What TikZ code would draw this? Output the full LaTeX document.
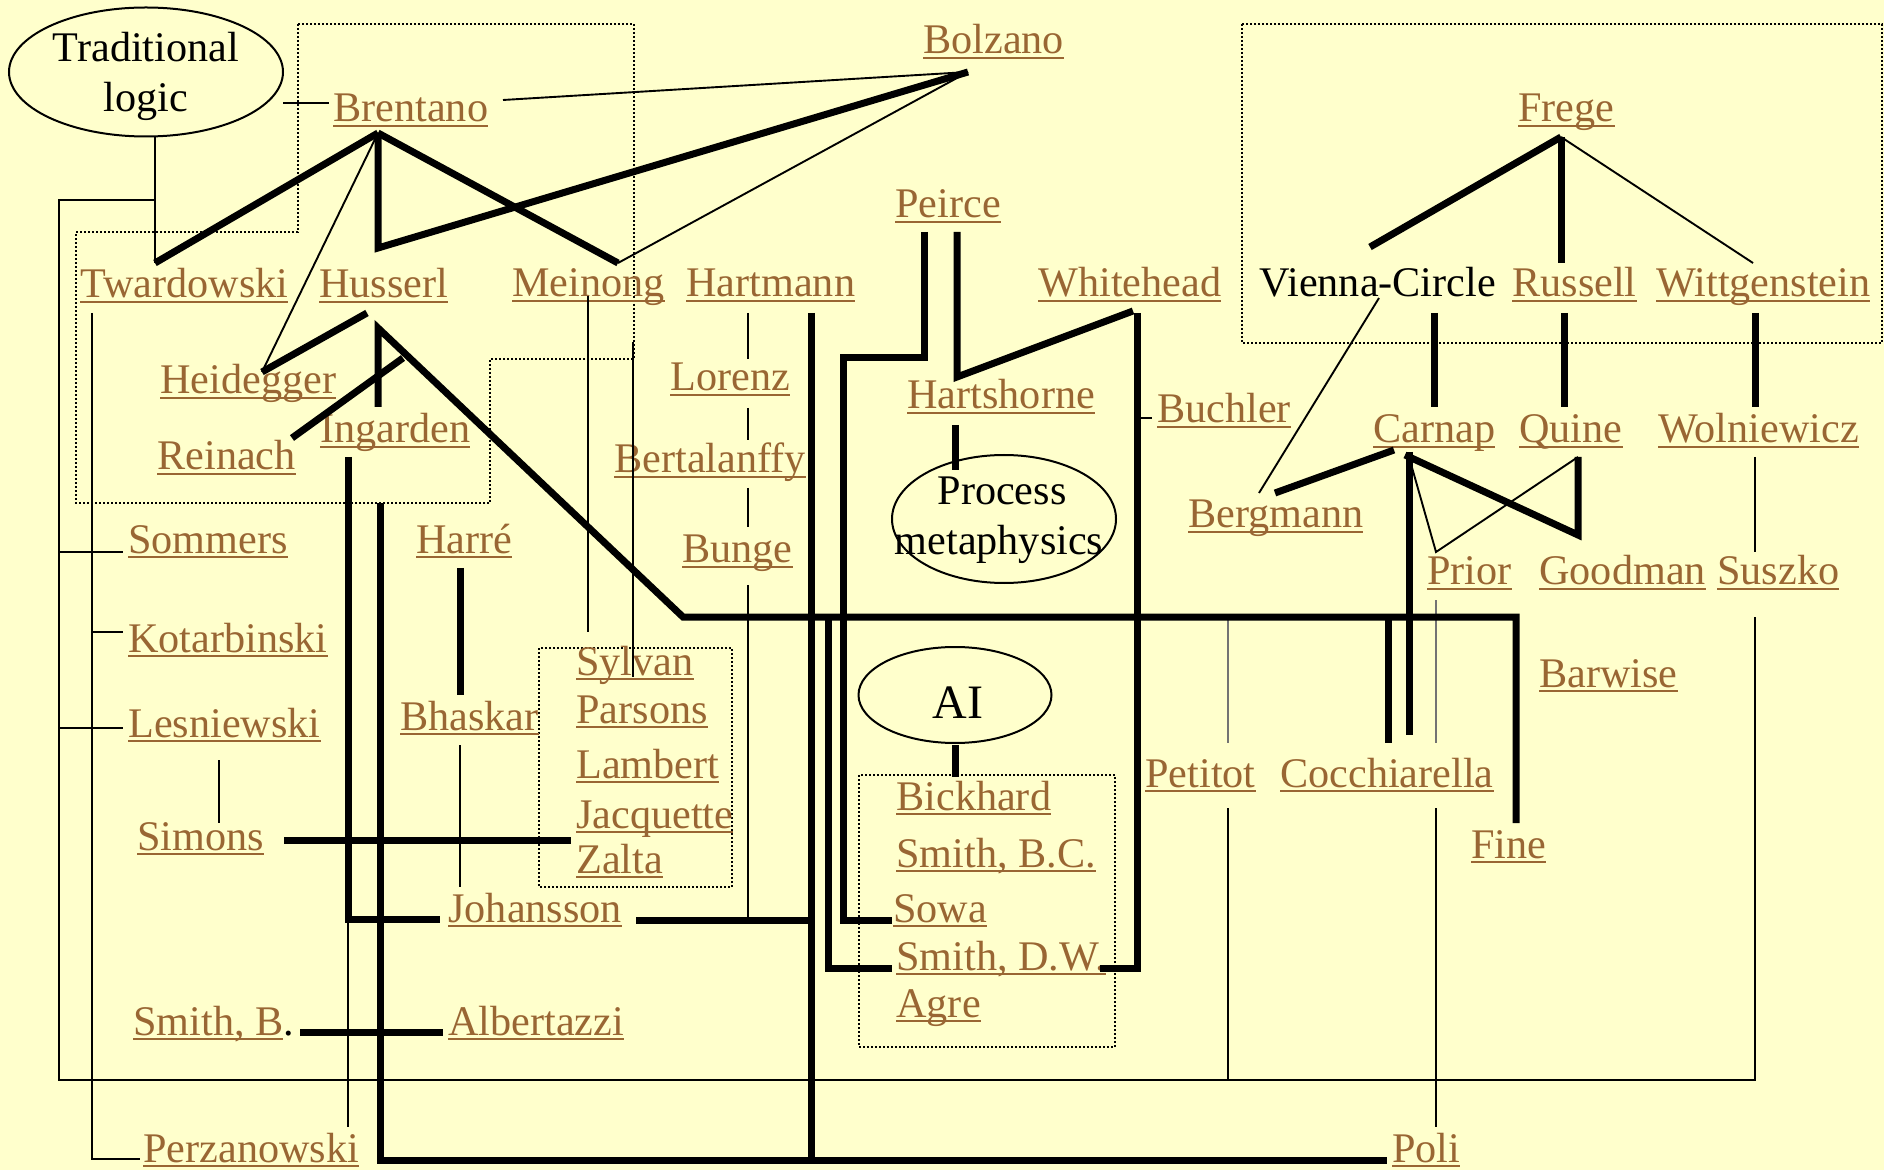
\documentclass[tikz,border=0pt]{standalone}
\usepackage{fontspec}
\setmainfont{Liberation Serif}
\usetikzlibrary{shapes.geometric}
\definecolor{bgc}{HTML}{FFFFCC}
\definecolor{lnkc}{HTML}{996633}
\newcommand\lnk[1]{\setbox0\hbox{#1}\rlap{\rule[-0.13em]{\wd0}{0.05em}}\box0}
\begin{document}
\begin{tikzpicture}[x=0.5pt,y=-0.5pt,
  nm/.style={text=lnkc, inner sep=0pt, anchor=base west, font=\fontsize{21.1}{24}\selectfont},
  pl/.style={text=black, inner sep=0pt, anchor=base west, font=\fontsize{21.1}{24}\selectfont},
  ct/.style={text=black, inner sep=0pt, anchor=base, font=\fontsize{21.1}{24}\selectfont},
  ell/.style={draw, ellipse, line width=1pt, inner sep=0pt},
  thk/.style={line width=3.5pt},
  thn/.style={line width=0.95pt},
  gry/.style={line width=0.7pt, draw=black!55},
  dotbox/.style={line width=1pt, dash pattern=on 1pt off 1pt}]
\fill[bgc] (0,0) rectangle (1884,1170);
\useasboundingbox (0,0) rectangle (1884,1170);

% ellipses
\node[ell, minimum width=137pt, minimum height=64.5pt] (trad) at (146,72) {};
\node[ct] (tradA) at (146,62) {Traditional};
\node[ct] (tradB) at (146,112) {logic};
\node[ell, minimum width=112pt, minimum height=64pt] (proc) at (1004,519) {};
\node[ct] (procA) at (1002,505) {Process};
\node[ct] (procB) at (999,555) {metaphysics};
\node[ell, minimum width=96.5pt, minimum height=48pt] (ai) at (955,695) {};
\node[ct, font=\fontsize{24}{28}\selectfont] (aiT) at (958,718) {AI};

% dotted boxes
\draw[dotbox] (298,24) -- (634,24) -- (634,359) -- (490,359) -- (490,503) -- (76,503) -- (76,232) -- (298,232) -- cycle;
\draw[dotbox] (1242,24) rectangle (1882,343);
\draw[dotbox] (539,648) rectangle (732,887);
\draw[dotbox] (859,775) rectangle (1115,1047);

% names
\node[nm] (brentano) at (333,122) {\lnk{Brentano}};
\node[nm] (bolzano) at (923,54) {\lnk{Bolzano}};
\node[nm] (peirce) at (895,218) {\lnk{Peirce}};
\node[nm] (frege) at (1518,122) {\lnk{Frege}};
\node[nm] (twardowski) at (80,298) {\lnk{Twardowski}};
\node[nm] (husserl) at (319,298) {\lnk{Husserl}};
\node[nm] (meinong) at (512,297) {\lnk{Meinong}};
\node[nm] (hartmann) at (686,297) {\lnk{Hartmann}};
\node[nm] (whitehead) at (1038,297) {\lnk{Whitehead}};
\node[pl] (vienna) at (1259,297) {Vienna-Circle};
\node[nm] (russell) at (1512,297) {\lnk{Russell}};
\node[nm] (wittgenstein) at (1656,297) {\lnk{Wittgenstein}};
\node[nm] (heidegger) at (160,394) {\lnk{Heidegger}};
\node[nm] (lorenz) at (670,391) {\lnk{Lorenz}};
\node[nm] (hartshorne) at (907,409) {\lnk{Hartshorne}};
\node[nm] (buchler) at (1157,423) {\lnk{Buchler}};
\node[nm] (reinach) at (157,470) {\lnk{Reinach}};
\node[nm] (ingarden) at (320,443) {\lnk{Ingarden}};
\node[nm] (carnap) at (1373,443) {\lnk{Carnap}};
\node[nm] (quine) at (1519,443) {\lnk{Quine}};
\node[nm] (wolniewicz) at (1658,443) {\lnk{Wolniewicz}};
\node[nm] (bertalanffy) at (614,473) {\lnk{Bertalanffy}};
\node[nm] (bergmann) at (1188,528) {\lnk{Bergmann}};
\node[nm] (sommers) at (128,553) {\lnk{Sommers}};
\node[nm] (harre) at (416,553) {\lnk{Harré}};
\node[nm] (bunge) at (682,563) {\lnk{Bunge}};
\node[nm] (prior) at (1427,585) {\lnk{Prior}};
\node[nm] (goodman) at (1539,585) {\lnk{Goodman}};
\node[nm] (suszko) at (1717,585) {\lnk{Suszko}};
\node[nm] (kotarbinski) at (128,652) {\lnk{Kotarbinski}};
\node[nm] (sylvan) at (576,675) {\lnk{Sylvan}};
\node[nm] (barwise) at (1539,687) {\lnk{Barwise}};
\node[nm] (parsons) at (576,723) {\lnk{Parsons}};
\node[nm] (bhaskar) at (400,730) {\lnk{Bhaskar}};
\node[nm] (lesniewski) at (128,737) {\lnk{Lesniewski}};
\node[nm] (lambert) at (576,778) {\lnk{Lambert}};
\node[nm] (petitot) at (1145,787) {\lnk{Petitot}};
\node[nm] (cocchiarella) at (1280,787) {\lnk{Cocchiarella}};
\node[nm] (bickhard) at (896,810) {\lnk{Bickhard}};
\node[nm] (jacquette) at (576,828) {\lnk{Jacquette}};
\node[nm] (simons) at (137,850) {\lnk{Simons}};
\node[nm] (fine) at (1471,858) {\lnk{Fine}};
\node[nm] (smithbc) at (896,867) {\lnk{Smith, B.C.}};
\node[nm] (zalta) at (576,873) {\lnk{Zalta}};
\node[nm] (johansson) at (448,922) {\lnk{Johansson}};
\node[nm] (sowa) at (893,922) {\lnk{Sowa}};
\node[nm] (smithdw) at (896,970) {\lnk{Smith, D.W.}};
\node[nm] (agre) at (896,1017) {\lnk{Agre}};
\node[nm] (smithb) at (133,1035) {\lnk{Smith, B}\textcolor{black}{.}};
\node[nm] (albertazzi) at (448,1035) {\lnk{Albertazzi}};
\node[nm] (perzanowski) at (143,1162) {\lnk{Perzanowski}};
\node[nm] (poli) at (1392,1162) {\lnk{Poli}};

% junction coordinates
\coordinate (pBr) at (378,133);
\coordinate (pBz) at (968,72);
\coordinate (pTw) at (155,263);
\coordinate (pMe) at (618,263);
\coordinate (pHe) at (262,372);
\coordinate (pFr) at (1561,137);
\coordinate (pCa) at (1405,455);

% thin connectors
\draw[thn] (283,103) -- (329,103);
\draw[thn] (155,136) -- (pTw);
\draw[thn] (155,200) -- (59,200) -- (59,1080) -- (1755,1080) -- (1755,617);
\draw[thn] (59,552) -- (123,552);
\draw[thn] (59,728) -- (123,728);
\draw[thn] (92,632) -- (123,632);
\draw[thn] (92,313) -- (92,1159) -- (140,1159);
\draw[thn] (503,100) -- (pBz);
\draw[thn] (pBr) -- (pHe);
\draw[thn] (pMe) -- (pBz);
\draw[thn] (588,296) -- (588,632);
\draw[thn] (633,342) -- (633,677);
\draw[thn] (748,313) -- (748,359);
\draw[thn] (748,408) -- (748,440);
\draw[thn] (748,488) -- (748,527);
\draw[thn] (748,585) -- (748,920);
\draw[thn] (219,760) -- (219,823);
\draw[thn] (460,745) -- (460,887);
\draw[thn] (348,919) -- (348,1127);
\draw[thn] (1137,418) -- (1152,418);
\draw[thn] (1379,298) -- (1259,493);
\draw[thn] (pFr) -- (1753,263);
\draw[thn] (1409,457) -- (1436,552) -- (1578,457);
\draw[thn] (1755,457) -- (1755,552);
\draw[thn] (1436,808) -- (1436,1127);
\draw[thn] (1228,808) -- (1228,1080);
\draw[gry] (1228,617) -- (1228,743);
\draw[gry] (1436,600) -- (1436,743);

% thick connectors
\draw[thk] (pTw) -- (pBr);
\draw[thk] (pBr) -- (378,248) -- (pBz);
\draw[thk] (pBr) -- (pMe);
\draw[thk] (367,313) -- (pHe);
\draw[thk] (378,407) -- (378,328) -- (683,617) -- (1516,617) -- (1516,823);
\draw[thk] (292,438) -- (403,358);
\draw[thk] (348,457) -- (348,919) -- (440,919);
\draw[thk] (380,503) -- (380,1160) -- (1387,1160);
\draw[thk] (284,840) -- (571,840);
\draw[thk] (300,1032) -- (443,1032);
\draw[thk] (460,568) -- (460,695);
\draw[thk] (811,313) -- (811,1160);
\draw[thk] (636,920) -- (811,920);
\draw[thk] (924,232) -- (924,358) -- (843,358) -- (843,920) -- (892,920);
\draw[thk] (957,232) -- (957,377) -- (1133,311);
\draw[thk] (1137,313) -- (1137,968) -- (1100,968);
\draw[thk] (828,617) -- (828,968) -- (892,968);
\draw[thk] (955,425) -- (955,470);
\draw[thk] (955,745) -- (955,777);
\draw[thk] (pFr) -- (1370,247);
\draw[thk] (pFr) -- (1561,263);
\draw[thk] (1434,313) -- (1434,407);
\draw[thk] (1564,313) -- (1564,407);
\draw[thk] (1755,313) -- (1755,407);
\draw[thk] (1275,493) -- (1394,450);
\draw[thk] (pCa) -- (1578,535) -- (1578,457);
\draw[thk] (1409,452) -- (1409,735);
\draw[thk] (1388,617) -- (1388,743);
\end{tikzpicture}
\end{document}
